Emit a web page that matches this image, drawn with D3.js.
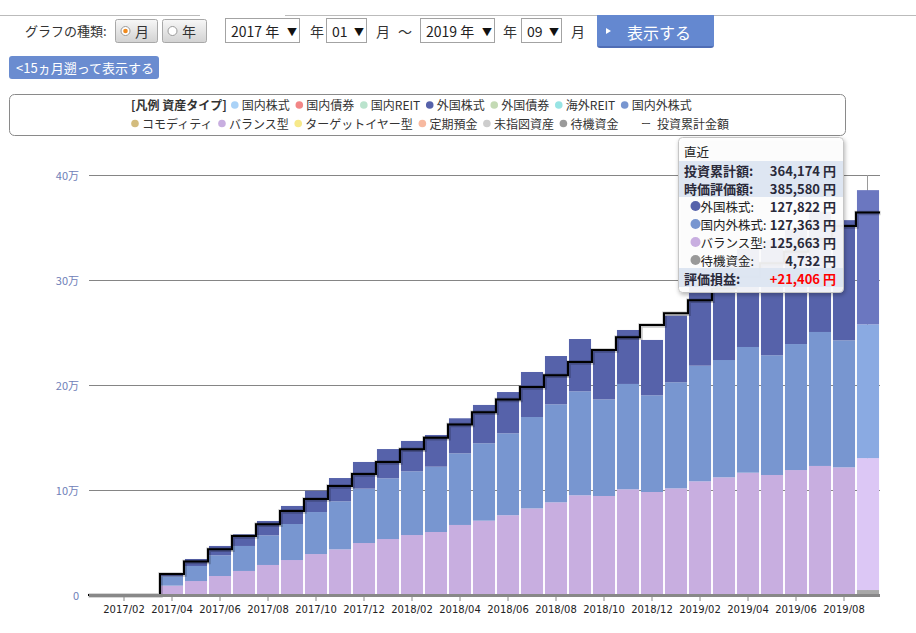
<!DOCTYPE html>
<html><head><meta charset="utf-8">
<script src="https://cdnjs.cloudflare.com/ajax/libs/d3/7.8.5/d3.min.js"></script>
<style>
html,body{margin:0;padding:0;background:#fff;}
svg{display:block;font-family:"Noto Sans CJK JP","Noto Sans",sans-serif;}
</style></head><body>
<svg id="c" width="916" height="633"></svg>
<script>
// ---------- DATA ----------
const months = ["2017/01","2017/02","2017/03","2017/04","2017/05","2017/06","2017/07","2017/08","2017/09","2017/10","2017/11","2017/12",
  "2018/01","2018/02","2018/03","2018/04","2018/05","2018/06","2018/07","2018/08","2018/09","2018/10","2018/11","2018/12",
  "2019/01","2019/02","2019/03","2019/04","2019/05","2019/06","2019/07","2019/08","2019/09"];
// 待機資金
const cash = [0,0,0,0,0,0,0,0,0,0,0,0, 0,0,0,0,0,0,0,0,0,0,0,0, 0,0,0,0,0,0,0,0,4732];
// バランス型
const balance = [0,0,0,8900,13300,18100,22900,28600,33300,39000,43500,49500,
  53300,57100,60000,66700,70800,76000,82500,88300,95000,94300,100700,98100,
  101600,108300,112100,116500,114300,119000,122900,121600,125663];
// 国内外株式
const domesticForeign = [0,0,0,8900,14300,19700,23800,28200,34300,40000,45700,51800,
  57800,60700,62200,68200,73700,78000,87000,93300,99000,92000,100300,92100,
  101000,110100,111700,119700,114000,120000,127600,120900,127363];
// 外国株式
const foreign = [0,0,0,2200,6700,8900,11100,13700,17200,20300,22200,25400,
  27900,28900,30200,33400,36500,39300,42900,46000,49800,47200,51400,52700,
  63400,81600,92200,93300,109700,109600,114500,114500,127822];
// 投資累計金額
const invested = [0,0,0,20000,32000,43500,56200,67300,80000,91400,103800,115200,
  126700,138700,149800,162500,174000,186300,198100,209200,221900,233300,245400,257100,
  268300,280700,292000,303000,316000,327000,339000,351400,364174];

const yTicks = [0,100000,200000,300000,400000];
const yTickLabels = ["0","10万","20万","30万","40万"];
const xTickLabels = ["2017/02","2017/04","2017/06","2017/08","2017/10","2017/12","2018/02","2018/04","2018/06",
  "2018/08","2018/10","2018/12","2019/02","2019/04","2019/06","2019/08"];

const legendNames1 = ["国内株式","国内債券","国内REIT","外国株式","外国債券","海外REIT","国内外株式"];
const legendColors1 = ["#aad2f7","#f28686","#bae3cd","#5662aa","#c4dab5","#98e4e4","#7896d0"];
const legendNames2 = ["コモディティ","バランス型","ターゲットイヤー型","定期預金","未指図資産","待機資金"];
const legendColors2 = ["#d3bc7e","#c8aee0","#f7e98a","#f7b9a0","#cdcdcd","#9a9a9a"];

const seriesKeys = ["cash","balance","domesticForeign","foreign"];
const seriesColors = {cash:"#a0a0a0", balance:"#c8aee0", domesticForeign:"#7896d0", foreign:"#5662aa"};
const seriesHiColors = {cash:"#a8a8a8", balance:"#dcc7f5", domesticForeign:"#8aaae2", foreign:"#6b77c0"};

// ---------- SETUP ----------
const svg = d3.select("#c");

const defs = svg.append("defs");
const g1 = defs.append("linearGradient").attr("id","btnGrad").attr("x1",0).attr("y1",0).attr("x2",0).attr("y2",1);
g1.append("stop").attr("offset","0%").attr("stop-color","#f7f7f7");
g1.append("stop").attr("offset","100%").attr("stop-color","#d2d2d2");
const sh = defs.append("filter").attr("id","shadow").attr("x","-10%").attr("y","-10%").attr("width","130%").attr("height","130%");
sh.append("feDropShadow").attr("dx",1).attr("dy",2).attr("stdDeviation",2).attr("flood-color","#000").attr("flood-opacity",0.3);

// top rule
svg.append("line").attr("x1",0).attr("x2",200).attr("y1",15.5).attr("y2",15.5).attr("stroke","#bbb");
svg.append("line").attr("x1",285).attr("x2",916).attr("y1",15.5).attr("y2",15.5).attr("stroke","#bbb");

// ---------- CONTROLS ----------
const ctl = svg.append("g").attr("font-size",13).attr("fill","#333");
ctl.append("text").attr("x",25).attr("y",30).attr("dominant-baseline","central").text("グラフの種類:");
[["月",115,42,true],["年",162,44,false]].forEach(([t,x,w,on])=>{
  ctl.append("rect").attr("x",x+0.5).attr("y",19.5).attr("width",w).attr("height",23).attr("rx",2)
    .attr("fill","url(#btnGrad)").attr("stroke","#a8a8a8");
  ctl.append("circle").attr("cx",x+10.5).attr("cy",31).attr("r",4.5).attr("fill","#fff").attr("stroke","#999");
  if(on) ctl.append("circle").attr("cx",x+10.5).attr("cy",31).attr("r",2.3).attr("fill","#f08a1e");
  ctl.append("text").attr("x",x+20).attr("y",31).attr("dominant-baseline","central").attr("font-size",14).text(t);
});
[["2017 年",225,74],["01",326,40],["2019 年",420,74],["09",521,40]].forEach(([t,x,w])=>{
  ctl.append("rect").attr("x",x+0.5).attr("y",18.5).attr("width",w).attr("height",24).attr("fill","#fff").attr("stroke","#a3a3a3");
  ctl.append("text").attr("x",x+6).attr("y",31).attr("dominant-baseline","central").attr("font-size",14).attr("fill","#222").text(t);
  ctl.append("text").attr("x",x+w-12).attr("y",31).attr("dominant-baseline","central").attr("font-size",10).attr("fill","#111").text("▼");
});
[["年",310],["月",376],["～",398],["年",503],["月",571]].forEach(([t,x])=>{
  ctl.append("text").attr("x",x).attr("y",31).attr("dominant-baseline","central").attr("font-size",14).text(t);
});
svg.append("rect").attr("x",597).attr("y",15).attr("width",117).attr("height",33).attr("rx",3).attr("fill","#4f6db5");
svg.append("rect").attr("x",597).attr("y",15).attr("width",117).attr("height",31).attr("fill","#6488d0");
svg.append("path").attr("d","M606,28 L611,31 L606,34 Z").attr("fill","#fff");
svg.append("text").attr("x",627).attr("y",31.5).attr("dominant-baseline","central").attr("font-size",16).attr("fill","#fff").text("表示する");
svg.append("rect").attr("x",9).attr("y",56).attr("width",150).attr("height",23).attr("rx",3).attr("fill","#6a8cd0");
svg.append("text").attr("x",16).attr("y",67.5).attr("dominant-baseline","central").attr("font-size",13).attr("fill","#fff").text("<15ヵ月遡って表示する");

// ---------- LEGEND ----------
svg.append("rect").attr("x",9.5).attr("y",94.5).attr("width",836).attr("height",41).attr("rx",5)
  .attr("fill","#fff").attr("stroke","#8a8a8a");
const lg = svg.append("g").attr("font-size",12).attr("fill","#333");
function legendRow(names, colors, y, startX, title){
  let x = startX;
  if(title){
    const t = lg.append("text").attr("x",x).attr("y",y).attr("dominant-baseline","central")
      .attr("font-weight","bold").text(title);
    x += t.node().getComputedTextLength() + 8;
  }
  names.forEach((n,i)=>{
    lg.append("circle").attr("cx",x).attr("cy",y+0.5).attr("r",3.8).attr("fill",colors[i]);
    const t = lg.append("text").attr("x",x+7).attr("y",y).attr("dominant-baseline","central").text(n);
    x += 7 + t.node().getComputedTextLength() + 9.5;
  });
  return x;
}
legendRow(legendNames1, legendColors1, 104.5, 131, "[凡例 資産タイプ]");
let endX = legendRow(legendNames2, legendColors2, 123, 135, null);
lg.append("text").attr("x",endX+13).attr("y",123).attr("dominant-baseline","central").attr("font-size",10).text("ー");
lg.append("text").attr("x",endX+29).attr("y",123).attr("dominant-baseline","central").text("投資累計金額");

// ---------- CHART ----------
const plotL = 88, plotR = 880;
const x = d3.scaleBand().domain(months).range([plotL, plotR]).paddingInner(0.08).paddingOuter(0.04);
const y = d3.scaleLinear().domain([0,400000]).range([595,175]);
const step = x.step();
const edge = m => x(m) - step*x.paddingInner()/2;

svg.append("g").selectAll("line").data(yTicks.slice(1)).join("line")
  .attr("x1",89).attr("x2",plotR).attr("y1",d=>Math.round(y(d))+0.5).attr("y2",d=>Math.round(y(d))+0.5)
  .attr("stroke","#858585");
svg.append("g").selectAll("text").data(yTicks).join("text")
  .attr("x",79).attr("y",d=>y(d)).attr("text-anchor","end").attr("dominant-baseline","central")
  .attr("font-size",11).attr("fill","#6f80b8").text((d,i)=>yTickLabels[i]);

const hiIdx = months.length-1;
svg.append("line").attr("x1",x(months[hiIdx])+x.bandwidth()/2-0.5).attr("x2",x(months[hiIdx])+x.bandwidth()/2-0.5)
  .attr("y1",y(400000)).attr("y2",595).attr("stroke","#9a9a9a");

const rows = months.map((m,i)=>({month:m, cash:cash[i], balance:balance[i], domesticForeign:domesticForeign[i], foreign:foreign[i]}));
const stacked = d3.stack().keys(seriesKeys)(rows);
svg.append("g").selectAll("g").data(stacked).join("g")
  .selectAll("rect").data(d=>d.map(v=>Object.assign({key:d.key},v))).join("rect")
  .attr("x",d=>x(d.data.month)).attr("width",x.bandwidth())
  .attr("y",d=>y(d[1])).attr("height",d=>Math.max(0,y(d[0])-y(d[1])))
  .attr("fill",(d,i)=> i===hiIdx ? seriesHiColors[d.key] : seriesColors[d.key]);

const pts = [];
months.forEach((m,i)=>{ pts.push([edge(m), y(invested[i])]); pts.push([edge(m)+step, y(invested[i])]); });
const lineGen = d3.line();
svg.append("path").attr("d",lineGen(pts)).attr("fill","none").attr("stroke","rgba(0,0,0,0.22)").attr("stroke-width",4.5).attr("transform","translate(0.5,0.5)");
svg.append("path").attr("d",lineGen(pts)).attr("fill","none").attr("stroke","#000").attr("stroke-width",2);

svg.append("line").attr("x1",89).attr("x2",plotR).attr("y1",595.5).attr("y2",595.5).attr("stroke","#888").attr("stroke-width",3);
const xt = svg.append("g");
xt.selectAll("line").data(xTickLabels).join("line")
  .attr("x1",d=>x(d)+x.bandwidth()/2).attr("x2",d=>x(d)+x.bandwidth()/2).attr("y1",597).attr("y2",601).attr("stroke","#888");
xt.selectAll("text").data(xTickLabels).join("text")
  .attr("x",d=>x(d)+x.bandwidth()/2).attr("y",609).attr("text-anchor","middle").attr("dominant-baseline","central")
  .attr("font-family","DejaVu Sans, sans-serif").attr("font-size",10).attr("fill","#222").text(d=>d);

// ---------- TOOLTIP ----------
const fmt = d3.format(",");
const total = cash[hiIdx]+balance[hiIdx]+domesticForeign[hiIdx]+foreign[hiIdx];
const tip = svg.append("g").attr("transform","translate(678,137)");
tip.append("rect").attr("x",0.5).attr("y",0.5).attr("width",165).attr("height",155).attr("rx",4)
  .attr("fill","#fff").attr("fill-opacity",0.9).attr("stroke","#c6c6c6").attr("filter","url(#shadow)");
tip.append("text").attr("x",6).attr("y",14).attr("dominant-baseline","central").attr("font-size",12.5).attr("fill","#222").text("直近");
[[24,18],[42,18],[131,19]].forEach(([yy,h])=>{
  tip.append("rect").attr("x",1).attr("y",yy).attr("width",164).attr("height",h).attr("fill","#dce5f1").attr("fill-opacity",0.95);
});
const tipRows = [
  {label:"投資累計額:", val:invested[hiIdx], y:33, bold:true},
  {label:"時価評価額:", val:total, y:51, bold:true},
  {label:"外国株式:", val:foreign[hiIdx], y:69, dot:seriesColors.foreign},
  {label:"国内外株式:", val:domesticForeign[hiIdx], y:87, dot:seriesColors.domesticForeign},
  {label:"バランス型:", val:balance[hiIdx], y:105, dot:seriesColors.balance},
  {label:"待機資金:", val:cash[hiIdx], y:123, dot:"#999"},
  {label:"評価損益:", val:total-invested[hiIdx], y:141, bold:true, sign:true, red:true}
];
tipRows.forEach(r=>{
  if(r.dot){
    tip.append("circle").attr("cx",17.5).attr("cy",r.y).attr("r",5).attr("fill",r.dot);
    tip.append("text").attr("x",22.5).attr("y",r.y).attr("dominant-baseline","central").attr("font-size",12.5).attr("fill","#222").text(r.label);
  } else {
    tip.append("text").attr("x",6).attr("y",r.y).attr("dominant-baseline","central").attr("font-size",13)
      .attr("font-weight","bold").attr("fill","#2a2a3a").text(r.label);
  }
  tip.append("text").attr("x",158).attr("y",r.y).attr("text-anchor","end").attr("dominant-baseline","central")
    .attr("font-size",13).attr("font-weight","bold").attr("fill", r.red ? "#ff0000" : "#2a2a3a")
    .text((r.sign && r.val>0 ? "+" : "") + fmt(r.val) + " 円");
});
</script>
</body></html>
